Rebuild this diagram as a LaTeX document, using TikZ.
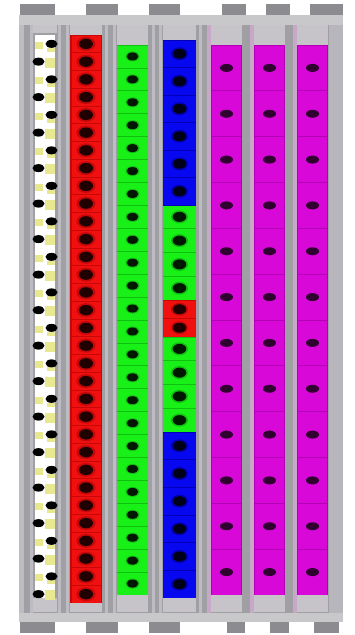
\documentclass[tikz,border=0pt]{standalone}
\usetikzlibrary{backgrounds}
\definecolor{rackgray}{HTML}{A0A0A4}
\definecolor{bandgray}{HTML}{C8C8CA}
\definecolor{tabgray}{HTML}{8C8C90}
\definecolor{hdrgray}{HTML}{C6C4C8}
\definecolor{lightstrip}{HTML}{BCBCC2}
\definecolor{pinkstrip}{HTML}{C8A8C8}
\definecolor{cred}{HTML}{F01010}
\definecolor{credline}{HTML}{C80808}
\definecolor{cgreen}{HTML}{18F018}
\definecolor{cgreenline}{HTML}{10C010}
\definecolor{cblue}{HTML}{0808F0}
\definecolor{cblueline}{HTML}{0000B8}
\definecolor{cmag}{HTML}{D808D8}
\definecolor{cmagline}{HTML}{B400B4}
\definecolor{cyel}{HTML}{E8E890}
\definecolor{dotred}{HTML}{200000}
\definecolor{dotgreen}{HTML}{001800}
\definecolor{dotblue}{HTML}{000018}
\definecolor{dotmag}{HTML}{300030}
\tikzset{
  tabbox/.style={fill=tabgray},
  hdrbox/.style={fill=hdrgray},
  cellline/.style={line width=0.7pt},
}
\begin{document}
\begin{tikzpicture}[x=1pt,y=-1pt]
\useasboundingbox (0,0) rectangle (354,635);
\fill[white] (0,0) rectangle (354,635);
% rack
\fill[rackgray] (19,25) rectangle (343,613);
\fill[bandgray] (19,15) rectangle (343,25);
\fill[bandgray] (19,613) rectangle (343,622);
% tabs
\foreach \a/\b in {20/55,86/118,149/180,222/246,266/290,310/343}
  \fill[tabbox] (\a,4) rectangle (\b,15);
\foreach \a/\b in {20/55,86/118,149/180,227/245,270/289,314/339}
  \fill[tabbox] (\a,622) rectangle (\b,633);
% vertical texture strips
\foreach \a/\b in {19/24,30/33,58/61,66/69,105/108,113/116,152/155,159/162,199/202}
  \fill[lightstrip] (\a,25) rectangle (\b,613);
\foreach \a/\b in {207/211,250/254,293/297}
  \fill[pinkstrip] (\a,25) rectangle (\b,613);
\fill[lightstrip!80!rackgray] (329,25) rectangle (343,613);
% headers and footers
\fill[hdrbox] (33,25) rectangle (57,33);
\fill[hdrbox] (70,25) rectangle (102,35);
\fill[hdrbox] (117,25) rectangle (148,45);
\fill[hdrbox] (163,25) rectangle (196,40);
\foreach \a in {211,254,297} \fill[hdrbox] (\a,25) rectangle (\a+31,45);
\fill[hdrbox] (33,598) rectangle (57,612);
\fill[hdrbox] (70,603) rectangle (102,612);
\fill[hdrbox] (117,595) rectangle (148,612);
\fill[hdrbox] (163,598) rectangle (196,612);
\foreach \a in {211,254,297} \fill[hdrbox] (\a,595) rectangle (\a+31,612);
% terminal strip (white / yellow)
\fill[white] (35,35) rectangle (55,598);
\foreach \i in {0,...,31}{
  \pgfmathsetmacro{\yc}{35+17.75*(\i+0.5)}
  \ifodd\i
    \fill[cyel] (45,\yc-4) rectangle (55,\yc+6);
    \fill[black] (38.5,\yc) ellipse [x radius=6, y radius=4];
  \else
    \fill[cyel] (35,\yc-2) rectangle (43,\yc+5);
    \fill[cyel] (47,\yc+4) rectangle (55,\yc+8);
    \fill[black] (51.5,\yc) ellipse [x radius=6, y radius=4];
  \fi
}
% red column
\fill[cred] (70,35) rectangle (102,603);
\draw[credline,line width=1.5pt] (70.75,35) -- (70.75,603) (101.25,35) -- (101.25,603);
\foreach \i in {0,...,31}{
  \pgfmathsetmacro{\yc}{35+17.75*(\i+0.5)}
  \draw[credline,cellline] (70,{35+17.75*\i}) -- (102,{35+17.75*\i});
  \fill[credline] (86,\yc) ellipse [x radius=9.5, y radius=7];
  \fill[dotred] (86,\yc) ellipse [x radius=7, y radius=5.2];
}
% green column
\fill[cgreen] (117,45) rectangle (148,595);
\foreach \i in {0,...,23}{
  \pgfmathsetmacro{\yc}{45+22.917*(\i+0.5)}
  \draw[cgreenline,cellline] (117,{45+22.917*\i}) -- (148,{45+22.917*\i});
  \fill[cgreenline] (132.5,\yc) ellipse [x radius=7, y radius=5];
  \fill[dotgreen] (132.5,\yc) ellipse [x radius=5.8, y radius=4];
}
% mixed column
\foreach \top/\n/\h/\fc/\lc/\dc in {40/6/27.5/cblue/cblueline/dotblue,
    205/4/23.75/cgreen/cgreenline/dotgreen,
    300/2/18.5/cred/credline/dotred,
    337/4/23.75/cgreen/cgreenline/dotgreen,
    432/6/27.667/cblue/cblueline/dotblue}{
  \fill[\fc] (163,\top) rectangle (196,{\top+\n*\h});
  \foreach \j in {1,...,\n}{
    \pgfmathsetmacro{\yc}{\top+\h*(\j-0.5)}
    \draw[\lc,cellline] (163,{\top+\h*(\j-1)}) -- (196,{\top+\h*(\j-1)});
    \fill[\lc] (179.5,\yc) ellipse [x radius=8.5, y radius=6.5];
    \fill[\dc] (179.5,\yc) ellipse [x radius=6.8, y radius=5];
  }
}
\draw[cblueline,line width=1pt] (163,205) -- (196,205) (163,432) -- (196,432);
% magenta columns
\foreach \a in {211,254,297}{
  \fill[cmag] (\a,45) rectangle (\a+31,595);
  \draw[cmagline,line width=1.2pt] (\a+0.6,45) -- (\a+0.6,595) (\a+30.4,45) -- (\a+30.4,595);
  \foreach \i in {0,...,11}{
    \pgfmathsetmacro{\yc}{45+45.833*(\i+0.5)}
    \draw[cmagline,cellline] (\a,{45+45.833*\i}) -- (\a+31,{45+45.833*\i});
    \fill[dotmag] (\a+15.5,\yc) ellipse [x radius=6.5, y radius=4];
  }
}
\end{tikzpicture}
\end{document}
